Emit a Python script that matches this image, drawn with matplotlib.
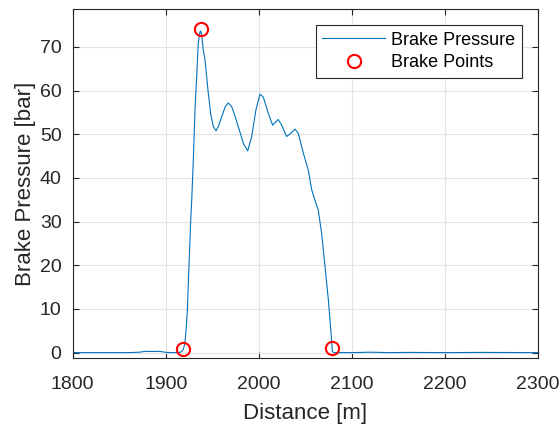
import matplotlib
matplotlib.use("Agg")
import matplotlib.pyplot as plt

distance = [1800, 1860, 1872, 1878, 1885, 1893, 1899, 1905, 1914, 1917, 1919.0, 1920.7,
            1922.0, 1923.3, 1925.0, 1926.9, 1928.0, 1929.7, 1931.5, 1933.3, 1935.0,
            1936.6, 1937.7, 1938.8, 1940.3, 1942.3, 1945.8, 1948.5, 1951.2, 1954.1,
            1957.0, 1960.2, 1964.0, 1967.3, 1971.0, 1974.5, 1978.0, 1983.5, 1988.2,
            1992.5, 1997.0, 2001.4, 2005.0, 2010.3, 2015.0, 2018.6, 2021.0, 2024.7,
            2030.0, 2034.4, 2039.0, 2042.6, 2048.0, 2053.3, 2057.0, 2060.5, 2064.0,
            2067.7, 2071.3, 2074.9, 2077.8, 2079.2, 2081, 2100, 2120, 2140, 2160, 2200,
            2240, 2300]
pressure = [0.0, 0.0, 0.1, 0.3, 0.25, 0.3, 0.1, 0.0, 0.0, 0.2, 0.8, 2.15,
            5.5, 9.8, 19.7, 30.4, 35.0, 44.1, 55.6, 63.2, 70.8,
            73.2, 73.7, 72.5, 69.5, 67.0, 59.4, 54.5, 51.8, 50.8,
            52.0, 54.0, 56.3, 57.2, 56.3, 54.2, 51.8, 47.9, 46.2,
            49.5, 55.6, 59.2, 58.5, 54.8, 52.1, 52.9, 53.4, 52.1,
            49.5, 50.2, 51.2, 50.2, 45.7, 41.8, 37.3, 34.9, 32.7,
            27.3, 19.7, 12.1, 4.4, 0.2, 0.0, 0.0, 0.1, 0.0, 0.05, 0.0,
            0.05, 0.0]
brake_dist = [1919.0, 1937.7, 2079.3]
brake_pres = [0.8, 74.1, 1.0]

plt.rcParams['font.family'] = ['Liberation Sans', 'DejaVu Sans']
fig = plt.figure(figsize=(5.6, 4.3), dpi=100)
ax = fig.add_axes([72.7/560, 1 - 358.3/430, (537.7-72.7)/560, (358.3-9)/430])

ax.plot(distance, pressure, color='#0072BD', lw=0.8, label='Brake Pressure')
ax.plot(brake_dist, brake_pres, 'o', mfc='none', mec='red', ms=9.5, mew=1.5,
        label='Brake Points')

ax.set_xlim(1800, 2300)
ax.set_ylim(-1.3, 78.7)
ax.set_xticks(range(1800, 2301, 100))
ax.set_yticks(range(0, 71, 10))
ax.grid(True, color='#e3e3e3', lw=0.8)
ax.set_axisbelow(True)
for s in ax.spines.values():
    s.set_color('#262626')
    s.set_linewidth(0.8)
ax.tick_params(direction='in', top=True, right=True, length=4, width=0.8,
               colors='#262626', labelsize=14, labelcolor='#262626')
ax.tick_params(axis='x', pad=12.5)
ax.tick_params(axis='y', pad=8)
ax.set_xlabel('Distance [m]', fontsize=16, color='#262626', labelpad=7.5)
ax.set_ylabel('Brake Pressure [bar]', fontsize=16, color='#262626', labelpad=3)

leg = ax.legend(loc='upper right', bbox_to_anchor=(0.9656, 0.9542), borderaxespad=0,
                fontsize=13, frameon=True, fancybox=False, edgecolor='#262626',
                framealpha=1, handlelength=3.5, handletextpad=0.3,
                borderpad=0.37, labelspacing=0.3)
leg.get_frame().set_linewidth(0.8)

fig.savefig('out.png', dpi=100)
